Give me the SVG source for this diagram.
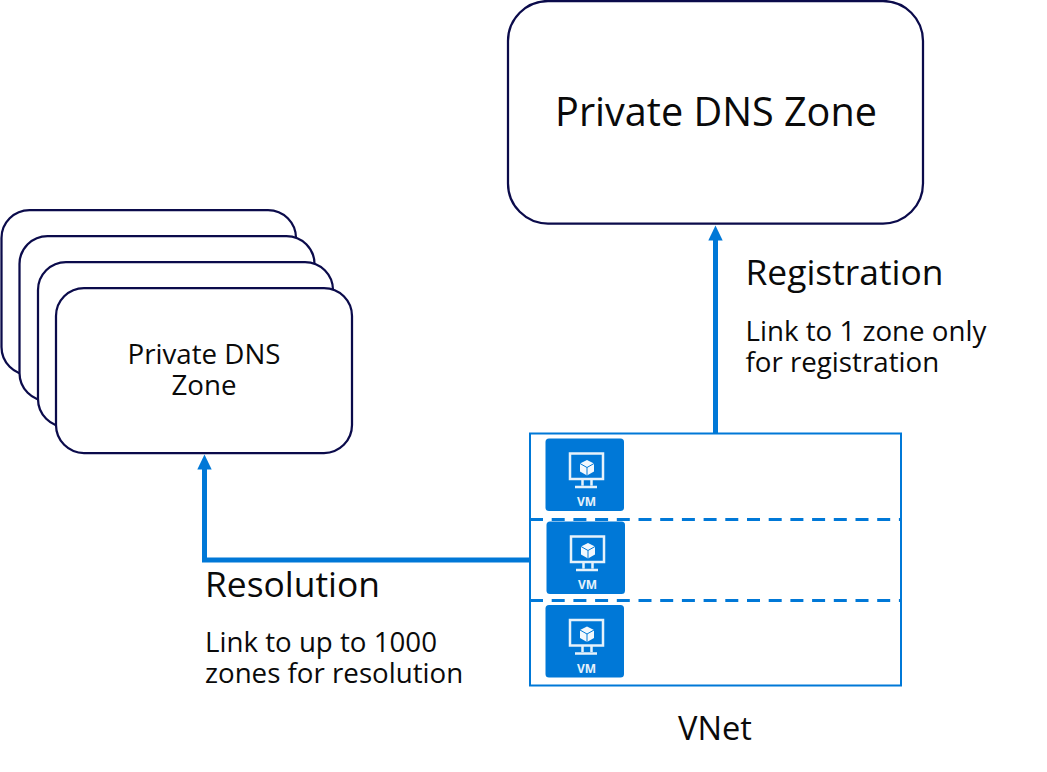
<svg xmlns="http://www.w3.org/2000/svg" width="1047" height="772" viewBox="0 0 1047 772">
<style>
text{font-family:"Open Sans","Noto Sans","Liberation Sans",sans-serif;fill:#0a0a0a}
.zone{fill:#fff;stroke:#0b0b4b;stroke-width:2.250}
.flow{fill:none;stroke:#0078d7;stroke-width:5}
.vnet{fill:#fff;stroke:#0078d7;stroke-width:2}
.dash{fill:none;stroke:#0078d7;stroke-width:3;stroke-dasharray:13 8.700}
.main{font-size:39.600px}.head{font-size:35.400px}.body{font-size:27.700px}
.ic{fill:none;stroke:#e6f2fb;stroke-width:2.500}
</style>
<defs>
<marker id="ah" markerUnits="userSpaceOnUse" markerWidth="16" markerHeight="16" refX="0.500" refY="8" orient="auto"><path d="M0 0.800L15 8L0 15.200Z" fill="#0078d7"/></marker>
<g id="vm">
<rect x="0" y="0" width="78.500" height="72.500" rx="3.500" fill="#0078d7"/>
<rect x="24.500" y="15" width="33" height="25.500" class="ic"/>
<path d="M41.500 21.500L48.500 25V33L41.500 37L34.500 33V25Z" fill="#f2f8fd"/>
<path d="M34.500 25L41.500 29L48.500 25M41.500 29V37" fill="none" stroke="#0078d7" stroke-width="1"/>
<path d="M37 41V47M46 41V47M29.500 48.500H51.500" class="ic"/>
<text x="41" y="67.500" text-anchor="middle" style="font-size:12px;font-weight:700;fill:#e6f2fb">VM</text>
</g>
</defs>
<g id="connectors">
<path class="flow" d="M715.500 433V240" marker-end="url(#ah)"/>
<path class="flow" d="M530 560H204.500V469" marker-end="url(#ah)"/>
</g>
<g id="zone-main"><rect class="zone" x="508" y="1" width="415" height="222.500" rx="40"/><text class="main" x="716" y="126" text-anchor="middle">Private DNS Zone</text></g>
<g id="zone-stack-1"><rect class="zone" x="1.500" y="210" width="294.500" height="165" rx="28"/></g>
<g id="zone-stack-2"><rect class="zone" x="19.500" y="236" width="295" height="165" rx="28"/></g>
<g id="zone-stack-3"><rect class="zone" x="38" y="262" width="295" height="165" rx="28"/></g>
<g id="zone-stack-4"><rect class="zone" x="56" y="288" width="296" height="165" rx="28"/><text class="body" text-anchor="middle"><tspan x="204" y="364">Private DNS</tspan><tspan x="204" y="395">Zone</tspan></text></g>
<g id="vnet">
<rect class="vnet" x="530" y="433.500" width="371" height="252"/>
<path class="dash" d="M530 519.500H901M530 600.500H901"/>
<use href="#vm" x="545.500" y="438.500"/>
<use href="#vm" x="546.500" y="521.500"/>
<use href="#vm" x="545.500" y="605"/>
<text x="678" y="740" style="font-size:32.600px">VNet</text>
</g>
<g id="label-registration">
<text class="head" x="745.500" y="285">Registration</text>
<text class="body"><tspan x="745.500" y="341">Link to 1 zone only</tspan><tspan x="745.500" y="372">for registration</tspan></text>
</g>
<g id="label-resolution">
<text class="head" x="205" y="597">Resolution</text>
<text class="body"><tspan x="205" y="652">Link to up to 1000</tspan><tspan x="205" y="683">zones for resolution</tspan></text>
</g>
</svg>
